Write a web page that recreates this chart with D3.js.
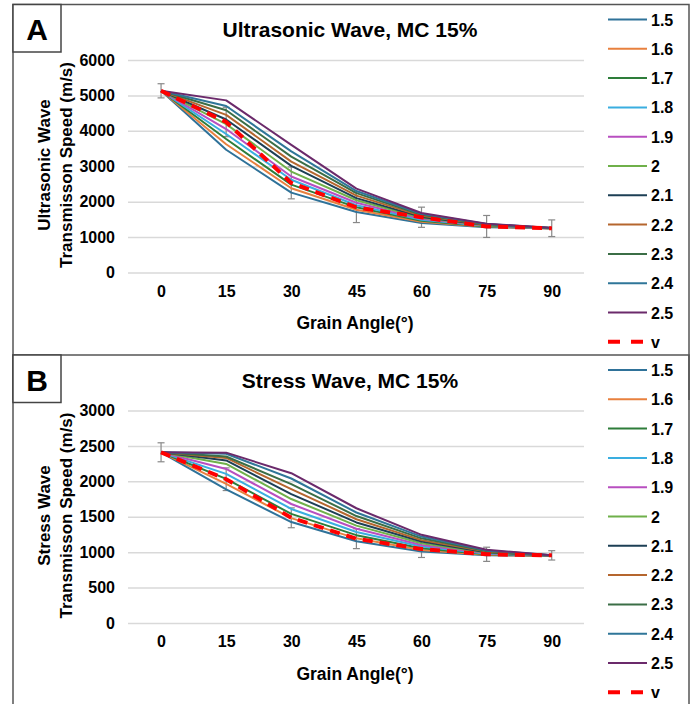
<!DOCTYPE html>
<html>
<head>
<meta charset="utf-8">
<script src="https://cdn.jsdelivr.net/npm/d3@7"></script>
<style>
body { margin: 0; background: #fff; }
svg { font-family: "Liberation Sans", Arial, sans-serif; font-weight: bold; }
</style>
</head>
<body>
<div id="chart"></div>
<script>
var width = 694;
var height = 704;

// grain angles (categories)
var angles = [0, 15, 30, 45, 60, 75, 90];
var seriesNames = ["1.5", "1.6", "1.7", "1.8", "1.9", "2", "2.1", "2.2", "2.3", "2.4", "2.5"];
var colors = ["#2f7299", "#e8803e", "#2e7d3a", "#3aaee0", "#b84fc0", "#6fb04a",
              "#1d3f55", "#b5662e", "#3b6e46", "#2f7699", "#6b2a6b"];

// panel A - ultrasonic wave (m/s), one row per series
var ultraValues = [
  [5130, 3465, 2255, 1710, 1400, 1280, 1245],
  [5130, 3620, 2380, 1770, 1430, 1290, 1245],
  [5130, 3770, 2480, 1840, 1460, 1300, 1250],
  [5130, 3910, 2620, 1900, 1490, 1310, 1250],
  [5130, 4050, 2710, 1970, 1515, 1320, 1250],
  [5130, 4190, 2850, 2040, 1545, 1330, 1250],
  [5130, 4320, 3010, 2100, 1570, 1340, 1255],
  [5130, 4450, 3130, 2170, 1600, 1350, 1255],
  [5130, 4580, 3270, 2240, 1630, 1360, 1255],
  [5130, 4700, 3420, 2300, 1655, 1370, 1260],
  [5130, 4860, 3605, 2370, 1680, 1380, 1260]
];
var ultraV = [5130, 4250, 2530, 1840, 1560, 1300, 1250];
var ultraErr = [200, 415, 450, 430, 285, 310, 235];

// panel B - stress wave (m/s)
var stressValues = [
  [2410, 1885, 1425, 1155, 1010, 955, 950],
  [2410, 1965, 1480, 1195, 1030, 962, 950],
  [2410, 2035, 1540, 1240, 1055, 970, 950],
  [2410, 2105, 1610, 1285, 1080, 978, 952],
  [2410, 2175, 1680, 1330, 1100, 985, 952],
  [2410, 2245, 1750, 1375, 1125, 993, 953],
  [2410, 2295, 1820, 1420, 1150, 1000, 953],
  [2410, 2330, 1890, 1465, 1170, 1008, 954],
  [2410, 2350, 1960, 1510, 1195, 1016, 955],
  [2410, 2390, 2040, 1560, 1220, 1025, 955],
  [2410, 2405, 2115, 1620, 1245, 1033, 956]
];
var stressV = [2410, 2030, 1485, 1190, 1045, 970, 955];
var stressErr = [134, 160, 140, 140, 120, 100, 66];

var ultraTicks = [0, 1000, 2000, 3000, 4000, 5000, 6000];
var stressTicks = [0, 500, 1000, 1500, 2000, 2500, 3000];

var svg = d3.select("#chart").append("svg")
    .attr("width", width)
    .attr("height", height);

function styleText(sel, size) {
    sel.attr("fill", "#000")
        .style("font-size", size)
        .style("font-family", "'Liberation Sans', Arial, sans-serif")
        .style("font-weight", "bold");
}

function drawPanel(top, letter, title, yTitle1, yMax, ticks, values, vals, errs) {
    var g = svg.append("g").attr("transform", "translate(0," + top + ")");

    // frame and letter box
    g.append("path")
        .attr("d", "M13,400 V4.5 H689 V400")
        .attr("fill", "none")
        .attr("stroke", "#555")
        .attr("stroke-width", 1.5);
    g.append("rect")
        .attr("x", 13).attr("y", 4.5)
        .attr("width", 48).attr("height", 47.5)
        .attr("fill", "#fff")
        .attr("stroke", "#444")
        .attr("stroke-width", 1.5);
    g.append("text")
        .attr("x", 37).attr("y", 40)
        .attr("text-anchor", "middle")
        .style("font-size", "30px")
        .text(letter);

    var xScale = d3.scalePoint()
        .domain(angles)
        .range([128.5, 584.3])
        .padding(0.5);
    var yScale = d3.scaleLinear()
        .domain([0, yMax])
        .range([272.5, 60]);

    // gridlines
    var yAxis = d3.axisLeft(yScale)
        .tickValues(ticks)
        .tickFormat(d3.format("d"))
        .tickSize(-(584 - 128))
        .tickPadding(13);
    var ya = g.append("g")
        .attr("transform", "translate(128,0)")
        .call(yAxis);
    ya.select(".domain").remove();
    ya.selectAll("line").attr("stroke", "#d9d9d9").attr("stroke-width", 1.5);
    styleText(ya.selectAll("text"), "16px");

    var xAxis = d3.axisBottom(xScale).tickSize(0).tickPadding(13);
    var xa = g.append("g")
        .attr("transform", "translate(0,272.5)")
        .call(xAxis);
    xa.select(".domain").remove();
    styleText(xa.selectAll("text"), "16px");

    // titles
    g.append("text")
        .attr("x", 350).attr("y", 37)
        .attr("text-anchor", "middle")
        .style("font-size", "21px")
        .text(title);
    g.append("text")
        .attr("x", 355).attr("y", 329)
        .attr("text-anchor", "middle")
        .style("font-size", "17.5px")
        .text("Grain Angle(°)");
    g.append("text")
        .attr("transform", "translate(50,165) rotate(-90)")
        .attr("text-anchor", "middle")
        .style("font-size", "17px")
        .text(yTitle1);
    g.append("text")
        .attr("transform", "translate(72,165) rotate(-90)")
        .attr("text-anchor", "middle")
        .style("font-size", "17px")
        .text("Transmisson Speed (m/s)");

    var line = d3.line()
        .x(function(d, i) { return xScale(angles[i]); })
        .y(function(d) { return yScale(d); });

    // error bars on v
    var eb = g.append("g").attr("stroke", "#888").attr("stroke-width", 1.2);
    vals.forEach(function(v, i) {
        var x = xScale(angles[i]);
        var y0 = yScale(v - errs[i]);
        var y1 = yScale(v + errs[i]);
        eb.append("line").attr("x1", x).attr("x2", x).attr("y1", y0).attr("y2", y1);
        eb.append("line").attr("x1", x - 3.5).attr("x2", x + 3.5).attr("y1", y0).attr("y2", y0);
        eb.append("line").attr("x1", x - 3.5).attr("x2", x + 3.5).attr("y1", y1).attr("y2", y1);
    });

    g.selectAll(".series")
        .data(values)
        .enter()
        .append("path")
        .attr("class", "series")
        .attr("fill", "none")
        .attr("stroke", function(d, i) { return colors[i]; })
        .attr("stroke-width", 2)
        .attr("stroke-linejoin", "round")
        .attr("d", line);

    g.append("path")
        .attr("fill", "none")
        .attr("stroke", "#ff0000")
        .attr("stroke-width", 4)
        .attr("stroke-dasharray", "10,7")
        .attr("d", line(vals));

    // legend
    var legend = g.append("g");
    var names = seriesNames.concat(["v"]);
    names.forEach(function(n, i) {
        var y = 19.5 + i * 29.3;
        var isV = (n === "v");
        legend.append("line")
            .attr("x1", 608).attr("x2", 647)
            .attr("y1", y).attr("y2", y)
            .attr("stroke", isV ? "#ff0000" : colors[i])
            .attr("stroke-width", isV ? 4 : 2)
            .attr("stroke-dasharray", isV ? "12,11" : null);
        legend.append("text")
            .attr("x", 651).attr("y", y + 6)
            .style("font-size", "16px")
            .text(n);
    });
}

drawPanel(0, "A", "Ultrasonic Wave, MC 15%", "Ultrasonic Wave", 6000, ultraTicks,
          ultraValues, ultraV, ultraErr);
drawPanel(350.5, "B", "Stress Wave, MC 15%", "Stress Wave", 3000, stressTicks,
          stressValues, stressV, stressErr);
</script>
</body>
</html>
